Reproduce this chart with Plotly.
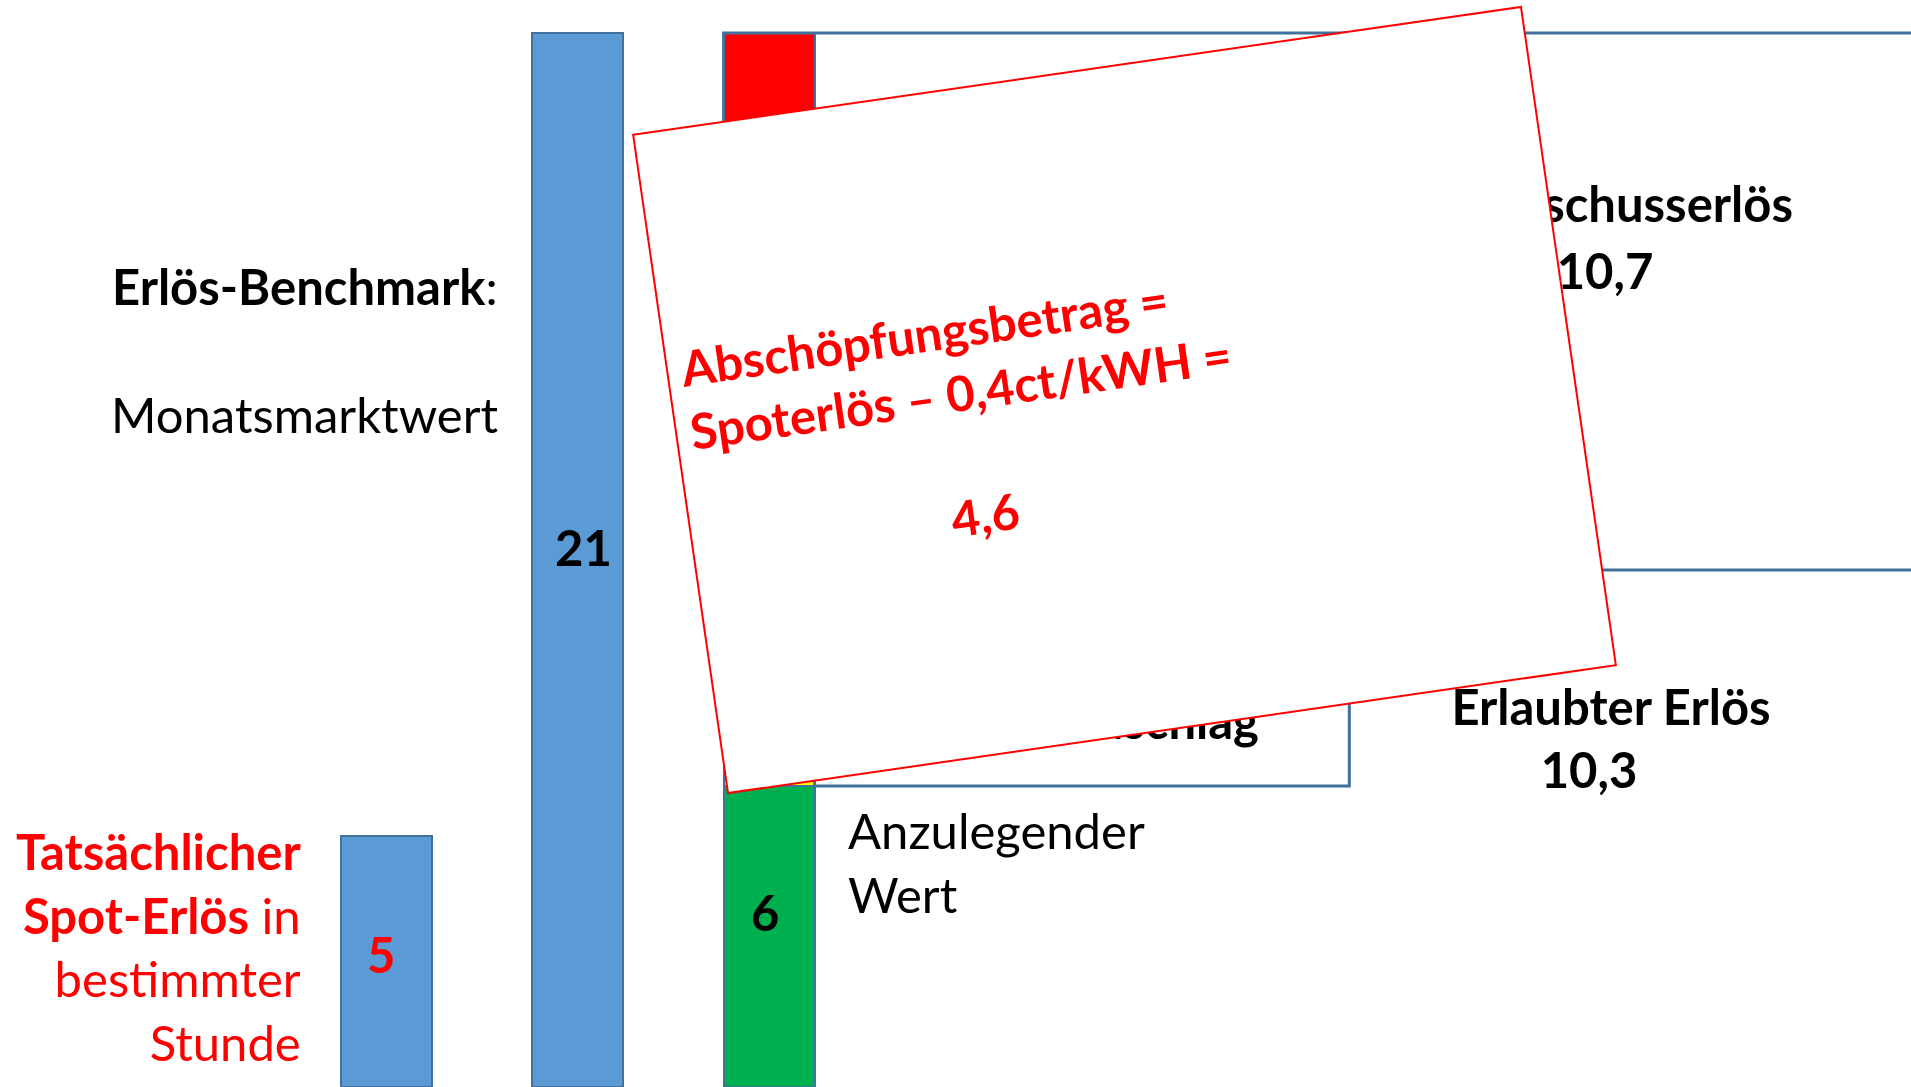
import math
import plotly.graph_objects as go

W, H = 1911, 1087

# ---------------- data ----------------
categories = ["Spot-Erlös", "Monatsmarktwert", "Zusammensetzung"]
spot_erloes = [5]
monatsmarktwert = [21]
anzulegender_wert = [6]
sicherheitszuschlag = [4.3]
ueberschusserloes = [10.7]
erlaubter_erloes = 10.3
abschoepfung = 4.6
abzug_ct = "0,4"

# ---------------- style ----------------
FONT = "Lato"
FS = 49
BLUE = "#5B9BD5"
EDGE = "#41719C"
GREEN = "#00B050"
YELLOW = "#FFFF00"
RED = "#FF0000"
BAR_W = 0.475
X_RANGE = [-2.016, 7.963]
Y_RANGE = [0, 21.66]


def fmt(v):
    return f"{v:g}".replace(".", ",")


def px(x):
    return x / W


def py(y):
    return 1 - y / H


fig = go.Figure()
bar_line = dict(color=EDGE, width=2)
fig.add_bar(x=[categories[0]], y=spot_erloes, marker=dict(color=BLUE, line=bar_line), width=BAR_W)
fig.add_bar(x=[categories[1]], y=monatsmarktwert, marker=dict(color=BLUE, line=bar_line), width=BAR_W)
fig.add_bar(x=[categories[2]], y=anzulegender_wert, marker=dict(color=GREEN, line=bar_line), width=BAR_W)
fig.add_bar(x=[categories[2]], y=sicherheitszuschlag, marker=dict(color=YELLOW, line=bar_line), width=BAR_W)
fig.add_bar(x=[categories[2]], y=ueberschusserloes, marker=dict(color=RED, line=bar_line), width=BAR_W)

# labels that sit underneath the rotated box (pixel overlay axes)
fig.add_trace(go.Scatter(
    x=[1614, 1605, 1259, 1611, 1589],
    y=[210, 277, 727, 713, 776],
    mode="text",
    text=["<b>Überschusserlös</b>", f"<b>{fmt(ueberschusserloes[0])}</b>",
          "<b>Sicherheitszuschlag</b>", "<b>Erlaubter Erlös</b>",
          f"<b>{fmt(erlaubter_erloes)}</b>"],
    textposition=["middle center", "middle center", "middle left",
                  "middle center", "middle center"],
    textfont=dict(family=FONT, size=FS, color="black"),
    xaxis="x2", yaxis="y2", hoverinfo="skip",
))

shapes = []
# Überschusserlös region box
shapes.append(dict(type="rect", xref="x", yref="y",
                   x0=2 - BAR_W / 2, x1=9, y0=erlaubter_erloes, y1=monatsmarktwert[0],
                   line=dict(color=EDGE, width=3), layer="above"))
# Sicherheitszuschlag region box
shapes.append(dict(type="rect", xref="x", yref="y",
                   x0=2 + BAR_W / 2, x1=5.03, y0=anzulegender_wert[0], y1=erlaubter_erloes,
                   line=dict(color=EDGE, width=3), layer="above"))

# rotated white call-out box
cx, cy, bw, bh, ang = 1124.5, 400, 897, 665, math.radians(8.2)
u = (math.cos(ang), -math.sin(ang))
n = (math.sin(ang), math.cos(ang))
corners = []
for sx, sy in [(-1, -1), (1, -1), (1, 1), (-1, 1)]:
    x = cx + sx * bw / 2 * u[0] + sy * bh / 2 * n[0]
    y = cy + sx * bw / 2 * u[1] + sy * bh / 2 * n[1]
    corners.append((px(x), py(y)))
path = "M " + " L ".join(f"{a:.5f},{b:.5f}" for a, b in corners) + " Z"
shapes.append(dict(type="path", xref="paper", yref="paper", path=path,
                   fillcolor="white", line=dict(color=RED, width=2), layer="above"))

annotations = [
    dict(x=px(500), y=py(286), xanchor="right", yanchor="middle",
         text="<b>Erlös-Benchmark</b>:", font=dict(color="black")),
    dict(x=px(500), y=py(414), xanchor="right", yanchor="middle",
         text="Monatsmarktwert", font=dict(color="black")),
    dict(x=px(303), y=py(946), xanchor="right", yanchor="middle", align="right",
         text="<b>Tatsächlicher</b><br><b>Spot-Erlös</b> in<br>bestimmter<br>Stunde",
         font=dict(color=RED)),
    dict(x=px(381), y=py(954), text=f"<b>{fmt(spot_erloes[0])}</b>", font=dict(color=RED)),
    dict(x=px(583), y=py(547), text=f"<b>{fmt(monatsmarktwert[0])}</b>", font=dict(color="black")),
    dict(x=px(765), y=py(912), text=f"<b>{fmt(anzulegender_wert[0])}</b>", font=dict(color="black")),
    dict(x=px(846), y=py(862), xanchor="left", yanchor="middle", align="left",
         text="Anzulegender<br>Wert", font=dict(color="black")),
    dict(x=px(955), y=py(361), xanchor="center", yanchor="middle", align="left",
         text=f"<b>Abschöpfungsbetrag =<br>Spoterlös – {abzug_ct}ct/kWH =</b>",
         textangle=-8.2, font=dict(color=RED)),
    dict(x=px(985), y=py(514), xanchor="center", yanchor="middle",
         text=f"<b>{fmt(abschoepfung)}</b>", textangle=-8.2, font=dict(color=RED)),
]
for a in annotations:
    a.setdefault("xanchor", "center")
    a.setdefault("yanchor", "middle")
    a["xref"] = "paper"
    a["yref"] = "paper"
    a["showarrow"] = False
    a["font"] = dict(family=FONT, size=FS, color=a["font"]["color"])

fig.update_layout(
    width=W, height=H, margin=dict(l=0, r=0, t=0, b=0),
    paper_bgcolor="white", plot_bgcolor="white",
    barmode="stack", showlegend=False,
    xaxis=dict(type="category", categoryorder="array", categoryarray=categories,
               range=X_RANGE, visible=False, fixedrange=True),
    yaxis=dict(range=Y_RANGE, visible=False, fixedrange=True),
    xaxis2=dict(overlaying="x", range=[0, W], visible=False, fixedrange=True),
    yaxis2=dict(overlaying="y", range=[H, 0], visible=False, fixedrange=True),
    shapes=shapes, annotations=annotations,
    font=dict(family=FONT, size=FS),
)

fig.write_html("out.html", config={"displayModeBar": False},
               post_script="document.body.style.margin='0';document.body.style.overflow='hidden';")
